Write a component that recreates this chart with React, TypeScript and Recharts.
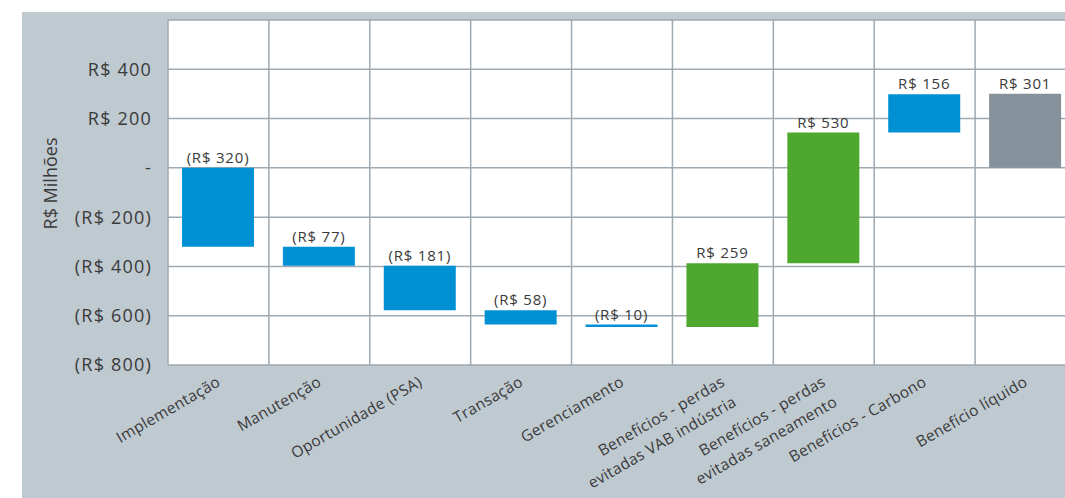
import React from 'react';
import { BarChart, Bar, XAxis, YAxis, CartesianGrid, Cell, LabelList } from 'recharts';

const categories = [
  'Implementação',
  'Manutenção',
  'Oportunidade (PSA)',
  'Transação',
  'Gerenciamento',
  'Benefícios - perdas\nevitadas VAB indústria',
  'Benefícios - perdas\nevitadas saneamento',
  'Benefícios - Carbono',
  'Benefício líquido',
];
const deltas = [-320, -77, -181, -58, -10, 259, 530, 156, 301];
const kinds = ['custo', 'custo', 'custo', 'custo', 'custo', 'beneficio', 'beneficio', 'carbono', 'total'];
const yTicks = [-800, -600, -400, -200, 0, 200, 400, 600];

const kindColors: Record<string, string> = {
  custo: '#0091d5',
  beneficio: '#4ea72e',
  carbono: '#0091d5',
  total: '#85929b',
};

const FONT = '"Open Sans", sans-serif';
const TEXT = '#3a3a3a';

// build waterfall ranges
let running = 0;
const data = categories.map((name, i) => {
  let start = 0;
  let end = deltas[i];
  if (kinds[i] !== 'total') {
    start = running;
    running += deltas[i];
    end = running;
  }
  return { name, range: [Math.min(start, end), Math.max(start, end)] };
});

const money = (v: number) => (v < 0 ? `(R$ ${Math.abs(v)})` : `R$ ${v}`);

const yTickFormat = (v: number) => {
  if (v === 600) return '';
  if (v === 0) return '-';
  return money(v);
};

const XTick = (props: any) => {
  const { x, y, payload } = props;
  const lines = String(payload.value).split('\n');
  return (
    <g transform={`translate(${x + 3},${y + 12}) rotate(-30)`}>
      <text textAnchor="end" fontFamily={FONT} fontSize={15.5} letterSpacing={0.3} fill={TEXT}>
        {lines.map((l, i) => (
          <tspan key={i} x={0} dy={i === 0 ? 0 : 23}>
            {l}
          </tspan>
        ))}
      </text>
    </g>
  );
};

const BarValueLabel = (props: any) => {
  const { x, y, width, height, index } = props;
  const top = Math.min(y, y + height);
  return (
    <text
      x={x + width / 2}
      y={top - 5}
      textAnchor="middle"
      fontFamily={FONT}
      fontSize={15}
      letterSpacing={0.8}
      fill={TEXT}
    >
      {money(deltas[index])}
    </text>
  );
};

const App: React.FC = () => {
  return (
    <div style={{ position: 'absolute', left: 0, top: 0, width: 1065, height: 498, overflow: 'hidden', background: '#fff' }}>
      <div style={{ position: 'absolute', left: 22, top: 12, width: 1054, height: 486, background: '#bfc9d0' }}>
        <BarChart
          width={1054}
          height={486}
          data={data}
          margin={{ top: 8, right: 0, bottom: 0, left: 0 }}
          barSize={72}
        >
          <CartesianGrid
            fill="#ffffff"
            stroke="#9ea9b1"
            strokeWidth={1.5}
            verticalCoordinatesGenerator={({ offset }: any) =>
              categories.map((_, i) => offset.left + (i * offset.width) / categories.length)
            }
          />
          <XAxis
            dataKey="name"
            height={133}
            axisLine={false}
            tickLine={false}
            interval={0}
            tick={<XTick />}
          />
          <YAxis
            width={146}
            domain={[-800, 600]}
            ticks={yTicks}
            interval={0}
            axisLine={false}
            tickLine={false}
            tickMargin={10}
            tickFormatter={yTickFormat}
            tick={{ fontFamily: FONT, fontSize: 18, fill: TEXT, letterSpacing: 1.2 }}
            label={{
              content: ({ viewBox }: any) => {
                const cx = viewBox.x + 28;
                const cy = viewBox.y + viewBox.height / 2 - 9;
                return (
                  <text
                    x={cx}
                    y={cy}
                    transform={`rotate(-90, ${cx}, ${cy})`}
                    textAnchor="middle"
                    dominantBaseline="central"
                    fontFamily={FONT}
                    fontSize={18}
                    fill={TEXT}
                  >
                    R$ Milhões
                  </text>
                );
              },
            }}
          />
          <Bar dataKey="range" isAnimationActive={false}>
            {data.map((_, i) => (
              <Cell key={i} fill={kindColors[kinds[i]]} />
            ))}
            <LabelList dataKey="range" content={<BarValueLabel />} />
          </Bar>
        </BarChart>
      </div>
    </div>
  );
};

export default App;
